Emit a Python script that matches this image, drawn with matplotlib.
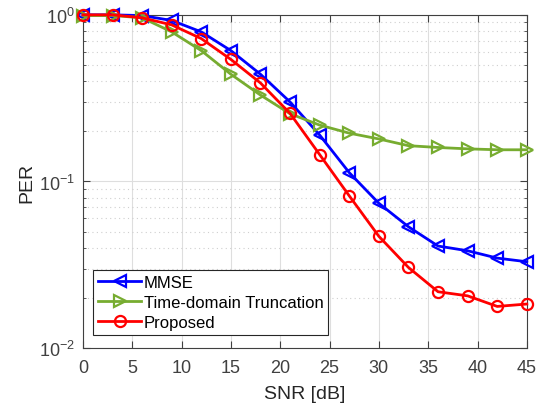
import matplotlib
matplotlib.use("Agg")
import matplotlib.pyplot as plt
import numpy as np

plt.rcParams['font.family'] = ['Liberation Sans', 'DejaVu Sans']
plt.rcParams['mathtext.fontset'] = 'custom'
plt.rcParams['mathtext.rm'] = 'Liberation Sans'

snr = [0, 3, 6, 9, 12, 15, 18, 21, 24, 27, 30, 33, 36, 39, 42, 45]
mmse = [1.0, 1.0, 0.99, 0.925, 0.79, 0.61, 0.44, 0.30, 0.19, 0.113, 0.074,
        0.0535, 0.041, 0.0384, 0.0347, 0.033]
trunc = [0.99, 0.99, 0.96, 0.79, 0.61, 0.44, 0.33, 0.255, 0.218, 0.195, 0.18,
         0.164, 0.16, 0.157, 0.155, 0.155]
proposed = [1.0, 1.0, 0.96, 0.87, 0.72, 0.54, 0.39, 0.256, 0.145, 0.082, 0.0469,
            0.0305, 0.0218, 0.0206, 0.0178, 0.0184]

fig = plt.figure(figsize=(5.42, 4.06), dpi=100)
ax = fig.add_axes([0.153, 0.140, 0.819, 0.821])

ax.semilogy(snr, mmse, color='b', marker='<', mfc='none', ms=9, mew=1.6, lw=2,
            label='MMSE', clip_on=False, zorder=3)
ax.semilogy(snr, trunc, color='#77AC30', marker='>', mfc='none', ms=9, mew=1.6, lw=2,
            label='Time-domain Truncation', clip_on=False, zorder=3)
ax.semilogy(snr, proposed, color='r', marker='o', mfc='none', ms=8, mew=1.6, lw=2,
            label='Proposed', clip_on=False, zorder=4)

ax.set_xlim(0, 45)
ax.set_ylim(1e-2, 1)
ax.set_xticks(np.arange(0, 46, 5))
ax.grid(True, which='major', color='#dedede', lw=0.8, ls='-')
ax.grid(True, which='minor', axis='y', color='#cfcfcf', lw=0.8, ls=(0, (1, 3)))
ax.set_axisbelow(True)

ax.tick_params(which='both', direction='in', top=True, right=True, labelsize=13,
               colors='#404040')
ax.tick_params(axis='x', pad=8)
ax.tick_params(axis='y', pad=6)
ax.tick_params(which='major', length=5)
ax.tick_params(which='minor', length=2.5)
for s in ax.spines.values():
    s.set_color('#404040')
    s.set_linewidth(0.8)

ax.set_xlabel('SNR [dB]', fontsize=14, color='#262626', labelpad=6)
ax.set_ylabel('PER', fontsize=14, color='#262626', labelpad=2)

leg = ax.legend(loc='lower left', bbox_to_anchor=(0.0225, 0.039), borderaxespad=0,
                fontsize=12, fancybox=False, framealpha=1, edgecolor='#262626',
                borderpad=0.3, labelspacing=0.3, handlelength=2.6, handletextpad=0.15)
leg.get_frame().set_linewidth(0.8)

fig.savefig('out.png', dpi=100)
